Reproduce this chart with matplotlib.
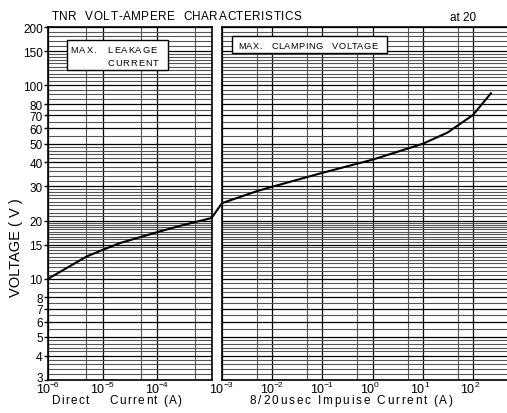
import numpy as np
import matplotlib
matplotlib.use('Agg')
import matplotlib.pyplot as plt
import matplotlib.transforms as mtransforms
from matplotlib.patches import Rectangle, ConnectionPatch
from matplotlib.ticker import NullFormatter
from matplotlib.font_manager import findfont, FontProperties
from matplotlib.ft2font import FT2Font

FONT = 'Liberation Sans'
plt.rcParams['font.family'] = FONT

# max. leakage current (DC)
dc_current = [1e-6, 5e-6, 1e-5, 2.1e-5, 1e-4, 2.7e-4, 1e-3]
dc_voltage = [10, 13.0, 14.1, 15.3, 17.4, 18.8, 20.6]

# max. clamping voltage (8/20us impulse)
imp_current = [1e-3, 5e-3, 1e-2, 1e-1, 1, 10, 31, 100, 228]
imp_voltage = [24.6, 28.4, 29.9, 35.3, 41.3, 49.9, 57, 70.3, 91]

volt_ticks = [3, 4, 5, 6, 7, 8, 10, 15, 20, 30, 40, 50, 60, 70, 80, 100, 150, 200]
dc_decades = [-6, -5, -4]
imp_decades = [-3, -2, -1, 0, 1, 2]

# log paper ruling
volt_lines = np.round(np.r_[np.arange(3, 5, 0.2), np.arange(5, 10, 0.5),
                            np.arange(10, 20, 0.5), np.arange(20, 30, 1),
                            np.arange(30, 50, 2), np.arange(50, 150, 5),
                            np.arange(150, 201, 10)], 1)
volt_lines = np.setdiff1d(volt_lines, volt_ticks)

W, H = 507, 414
fig = plt.figure(figsize=(W / 100, H / 100), dpi=100)


def tracked(x0, x1, y, s, size):
    # letter-spaced text between pixel x0 and x1, baseline at pixel y
    ft = FT2Font(findfont(FontProperties(family=FONT)))
    ft.set_size(size, 100)
    adv = [ft.load_char(ord(c)).linearHoriAdvance / 65536 for c in s]
    gap = (x1 - x0 - sum(adv)) / (len(s) - 1)
    x = x0
    for c, a in zip(s, adv):
        fig.text(x / W, 1 - y / H, c, fontsize=size, ha='left', va='baseline')
        x += a + gap


def box(x0, y0, x1, y1):
    fig.add_artist(Rectangle(((x0 + 1) / W, 1 - (y1 + 1) / H), (x1 - x0) / W, (y1 - y0) / H,
                             transform=fig.transFigure, fc='k', lw=0, zorder=2))
    fig.add_artist(Rectangle((x0 / W, 1 - y1 / H), (x1 - x0) / W, (y1 - y0) / H,
                             transform=fig.transFigure, fc='white', ec='k', lw=1, zorder=2))


ax1 = fig.add_axes([48.3 / W, 1 - 380.7 / H, 163.2 / W, 352.4 / H])
ax2 = fig.add_axes([222 / W, 1 - 380.7 / H, 286 / W, 352.4 / H])
ax1.set_xlim(1e-6, 1e-3)
ax2.set_xlim(1e-3, 227.6)

for ax, dec in ((ax1, dc_decades), (ax2, imp_decades)):
    ax.set_xscale('log')
    ax.set_yscale('log')
    ax.set_ylim(3, 200)
    major = [10.0 ** d for d in dec]
    ax.set_xticks(major)
    ax.set_xticks([5 * m for m in major], minor=True)
    ax.xaxis.set_major_formatter(NullFormatter())
    ax.xaxis.set_minor_formatter(NullFormatter())
    ax.set_yticks(volt_ticks)
    ax.set_yticks(volt_lines, minor=True)
    ax.yaxis.set_minor_formatter(NullFormatter())
    ax.tick_params(axis='x', which='both', length=0)
    ax.tick_params(axis='y', which='minor', length=0)
    ax.grid(True, which='major', color='k', lw=0.9)
    ax.grid(True, which='minor', color='#555555', lw=0.8)
    for s in ax.spines.values():
        s.set_linewidth(1.2)
    # decade labels: "10" with a small exponent
    for d, m in zip(dec, major):
        ax.annotate('10', xy=(m, 0), xycoords=('data', 'axes fraction'), xytext=(1.5, -12.6),
                    textcoords='offset pixels', ha='right', va='baseline', fontsize=9,
                    annotation_clip=False)
        ax.annotate(str(d).replace('-', '\u2212'), xy=(m, 0), xycoords=('data', 'axes fraction'),
                    xytext=(1.5, -6.8), textcoords='offset pixels', ha='left', va='baseline',
                    fontsize=6, annotation_clip=False)

ax1.set_yticklabels([str(v) for v in volt_ticks], fontsize=8.5)
ax1.tick_params(axis='y', which='major', length=3, pad=1, width=1)
# lift the bottom "3" a little so it clears the 10^-6 label
lbl = ax1.get_yticklabels()[0]
lbl.set_transform(lbl.get_transform() + mtransforms.ScaledTranslation(0, 3 / 100, fig.dpi_scale_trans))
ax2.tick_params(axis='y', which='both', left=False, labelleft=False)
ax2.spines['right'].set_visible(False)

ax1.plot(dc_current, dc_voltage, color='k', lw=1.5)
ax2.plot(imp_current, imp_voltage, color='k', lw=1.5)
fig.add_artist(ConnectionPatch(xyA=(dc_current[-1], dc_voltage[-1]), coordsA=ax1.transData,
                               xyB=(imp_current[0], imp_voltage[0]), coordsB=ax2.transData,
                               color='k', lw=1.5))

# labels
tracked(51.7, 301.7, 20, 'TNR  VOLT-AMPERE  CHARACTERISTICS', 8.5)
fig.text(450 / W, 1 - 20.7 / H, 'at 20', fontsize=8.5, ha='left', va='baseline')
fig.text(16 / W, 1 - 248 / H, 'VOLTAGE ( V )', fontsize=10.5, rotation=90,
         ha='center', va='center')
tracked(51.7, 181.7, 404, 'Direct    Current (A)', 8.5)
tracked(250, 453, 404, '8/20usec Impuise Current (A)', 8.5)

box(66.7, 40.7, 168.3, 70.7)
tracked(70.7, 156.7, 52.7, 'MAX.   LEAKAGE', 6.7)
tracked(107.3, 158.3, 66, 'CURRENT', 6.7)
box(231.7, 37.3, 386.7, 54)
tracked(238.3, 377.7, 49.3, 'MAX.   CLAMPING   VOLTAGE', 6.7)

fig.savefig('out.png', dpi=100)
